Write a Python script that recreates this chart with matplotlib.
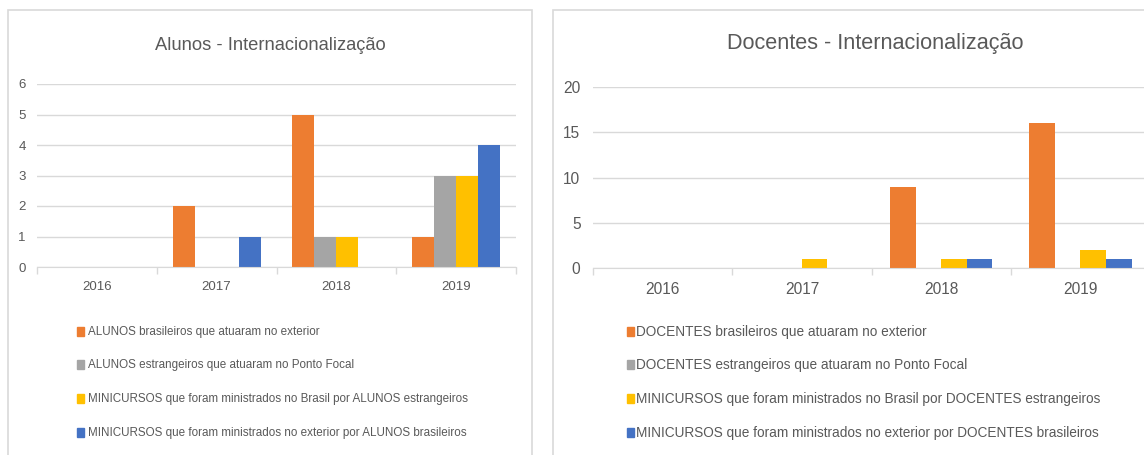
import matplotlib
matplotlib.use("Agg")
import matplotlib.pyplot as plt
import numpy as np
from matplotlib.patches import Rectangle

# data
anos = ["2016", "2017", "2018", "2019"]

alunos_labels = [
    "ALUNOS brasileiros que atuaram no exterior",
    "ALUNOS estrangeiros que atuaram no Ponto Focal",
    "MINICURSOS que foram ministrados no Brasil por ALUNOS estrangeiros",
    "MINICURSOS que foram ministrados no exterior por ALUNOS brasileiros",
]
alunos_bras_exterior = [0, 2, 5, 1]
alunos_estr_ponto = [0, 0, 1, 3]
alunos_mini_brasil = [0, 0, 1, 3]
alunos_mini_exterior = [0, 1, 0, 4]

docentes_labels = [
    "DOCENTES brasileiros que atuaram no exterior",
    "DOCENTES estrangeiros que atuaram no Ponto Focal",
    "MINICURSOS que foram ministrados no Brasil por DOCENTES estrangeiros",
    "MINICURSOS que foram ministrados no exterior por DOCENTES brasileiros",
]
docentes_bras_exterior = [0, 0, 9, 16]
docentes_estr_ponto = [0, 0, 0, 0]
docentes_mini_brasil = [0, 1, 1, 2]
docentes_mini_exterior = [0, 0, 1, 1]

cores = ["#ED7D31", "#A5A5A5", "#FFC000", "#4472C4"]
texto = "#595959"
grade = "#D9D9D9"
fonte = ["Liberation Sans", "DejaVu Sans"]

W, H = 1144, 455
fig = plt.figure(figsize=(W / 100, H / 100), dpi=100)


def px_axes(x0, x1, y_top, y_bot):
    return fig.add_axes([x0 / W, 1 - y_bot / H, (x1 - x0) / W, (y_bot - y_top) / H])


def painel(x0, x1):
    # border of each chart area
    fig.patches.append(Rectangle((x0 / W, -0.1), (x1 - x0) / W, 1 - 10 / H + 0.1,
                                 transform=fig.transFigure, fill=False,
                                 edgecolor=grade, linewidth=1.2))


def grafico(ax, series, ymax, ystep, tick_fs, ypad):
    x = np.arange(len(anos))
    largura = 0.184
    for i, (vals, cor) in enumerate(zip(series, cores)):
        ax.bar(x + (i - 1.5) * largura, vals, largura, color=cor, zorder=3)
    ax.set_xlim(-0.5, len(anos) - 0.5)
    ax.set_ylim(0, ymax)
    ax.set_yticks(np.arange(0, ymax + 1, ystep))
    ax.set_xticks(x)
    ax.set_xticklabels(anos)
    ax.set_xticks(np.arange(-0.5, len(anos)), minor=True)
    ax.tick_params(axis="x", which="major", length=0, pad=10, labelsize=tick_fs, labelcolor=texto)
    ax.tick_params(axis="x", which="minor", length=5, color=grade, width=1)
    ax.tick_params(axis="y", length=0, pad=ypad, labelsize=tick_fs, labelcolor=texto)
    for lab in ax.get_xticklabels() + ax.get_yticklabels():
        lab.set_family(fonte)
    ax.grid(axis="y", color=grade, linewidth=1, zorder=0)
    for s in ["top", "right", "left"]:
        ax.spines[s].set_visible(False)
    ax.spines["bottom"].set_color(grade)
    ax.spines["bottom"].set_zorder(4)
    ax.set_facecolor("none")


def legenda(labels, x_marc, x_txt, ys, fs):
    for lab, cor, y in zip(labels, cores, ys):
        fig.patches.append(Rectangle((x_marc / W, 1 - (y + 4) / H), 7 / W, 9 / H,
                                     transform=fig.transFigure, color=cor))
        fig.text(x_txt / W, 1 - y / H, lab, ha="left", va="center",
                 fontsize=fs, color=texto, family=fonte)


painel(8, 532)
painel(553, 1200)

# left chart
ax1 = px_axes(37, 516, 84, 267)
grafico(ax1, [alunos_bras_exterior, alunos_estr_ponto, alunos_mini_brasil, alunos_mini_exterior],
        6, 1, 9.5, 8)
fig.text(270 / W, 1 - 46 / H, "Alunos - Internacionalização", ha="center", va="center",
         fontsize=13.2, color=texto, family=fonte)
legenda(alunos_labels, 77, 88, [332, 365, 399, 433], 8.4)

# right chart
ax2 = px_axes(593, 1150, 87, 268)
grafico(ax2, [docentes_bras_exterior, docentes_estr_ponto, docentes_mini_brasil, docentes_mini_exterior],
        20, 5, 11.2, 9)
fig.text(875 / W, 1 - 44 / H, "Docentes - Internacionalização", ha="center", va="center",
         fontsize=15.6, color=texto, family=fonte)
legenda(docentes_labels, 627, 636, [332, 365, 399, 433], 9.8)

fig.savefig("out.png", dpi=100, facecolor="white")
